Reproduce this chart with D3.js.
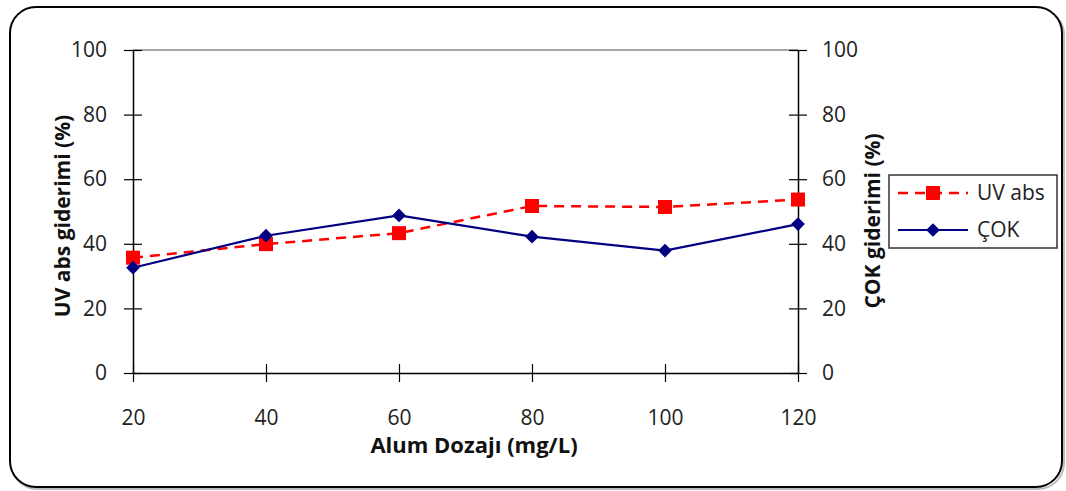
<!DOCTYPE html>
<html>
<head>
<meta charset="utf-8">
<script src="https://cdn.jsdelivr.net/npm/d3@7"></script>
<style>
  body { margin: 0; background: #fff; }
  text { font-family: "Open Sans", sans-serif; }
</style>
</head>
<body>
<div id="chart"></div>
<script>
var w = 1066;
var h = 491;

// data
var doses = [20, 40, 60, 80, 100, 120];
var uvAbs = [35.7, 39.9, 43.3, 51.7, 51.4, 53.7];
var cok = [32.6, 42.5, 48.8, 42.2, 37.9, 46.1];
var yTicks = [0, 20, 40, 60, 80, 100];
var seriesNames = ["UV abs", "ÇOK"];

var plotLeft = 133, plotRight = 798, plotTop = 50, plotBottom = 373;

var svg = d3.select("#chart")
    .append("svg")
    .attr("width", w)
    .attr("height", h);

// outer frame
svg.append("rect")
    .attr("x", 11).attr("y", 9)
    .attr("width", 1053).attr("height", 480)
    .attr("rx", 26).attr("ry", 26)
    .style("fill", "none")
    .style("stroke", "#bbb")
    .style("stroke-width", 2);
svg.append("rect")
    .attr("x", 10).attr("y", 7)
    .attr("width", 1052).attr("height", 480)
    .attr("rx", 26).attr("ry", 26)
    .style("fill", "#fff")
    .style("stroke", "#000")
    .style("stroke-width", 2);

var xScale = d3.scaleLinear()
    .domain([20, 120])
    .range([plotLeft, plotRight]);

var yScale = d3.scaleLinear()
    .domain([0, 100])
    .range([plotBottom, plotTop]);

// top border of plot area
svg.append("line")
    .attr("x1", plotLeft).attr("x2", plotRight)
    .attr("y1", plotTop).attr("y2", plotTop)
    .style("stroke", "#888")
    .style("stroke-width", 1.5);

var styleAxis = function(g) {
    g.select(".domain").style("stroke", "#000").style("stroke-width", 1.5);
    g.selectAll(".tick line").style("stroke", "#000").style("stroke-width", 1.2);
    g.selectAll(".tick text")
        .style("font-size", "21px")
        .style("font-family", "'Open Sans', sans-serif")
        .style("fill", "#222");
};

var xAxis = svg.append("g")
    .attr("transform", "translate(0," + plotBottom + ")")
    .call(d3.axisBottom(xScale).tickValues(doses).tickSize(9).tickSizeOuter(0).tickPadding(28));
styleAxis(xAxis);
xAxis.selectAll(".tick line").attr("y1", -9);

var yAxisL = svg.append("g")
    .attr("transform", "translate(" + plotLeft + ",0)")
    .call(d3.axisLeft(yScale).tickValues(yTicks).tickSize(9).tickSizeOuter(0).tickPadding(17));
styleAxis(yAxisL);
yAxisL.selectAll(".tick line").attr("x1", 9);

var yAxisR = svg.append("g")
    .attr("transform", "translate(" + plotRight + ",0)")
    .call(d3.axisRight(yScale).tickValues(yTicks).tickSize(9).tickSizeOuter(0).tickPadding(15));
styleAxis(yAxisR);
yAxisR.selectAll(".tick line").attr("x1", -9);

// axis titles
svg.append("text")
    .attr("x", 474)
    .attr("y", 453)
    .attr("text-anchor", "middle")
    .style("font-size", "22px")
    .style("font-weight", "bold")
    .style("fill", "#111")
    .text("Alum Dozajı (mg/L)");

svg.append("text")
    .attr("transform", "translate(70,216) rotate(-90)")
    .attr("text-anchor", "middle")
    .style("font-size", "21px")
    .style("font-weight", "bold")
    .style("fill", "#111")
    .text("UV abs giderimi (%)");

svg.append("text")
    .attr("transform", "translate(880,221) rotate(-90)")
    .attr("text-anchor", "middle")
    .style("font-size", "21px")
    .style("font-weight", "bold")
    .style("fill", "#111")
    .text("ÇOK giderimi (%)");

var line = d3.line()
    .x(function(d, i) { return xScale(doses[i]); })
    .y(function(d) { return yScale(d); });

// UV abs series
svg.append("path")
    .datum(uvAbs)
    .attr("d", line)
    .style("fill", "none")
    .style("stroke", "#ff0000")
    .style("stroke-width", 2.5)
    .style("stroke-dasharray", "10,7");

svg.selectAll(".uv")
    .data(uvAbs)
    .enter().append("rect")
    .attr("class", "uv")
    .attr("x", function(d, i) { return xScale(doses[i]) - 7; })
    .attr("y", function(d) { return yScale(d) - 7; })
    .attr("width", 14).attr("height", 14)
    .style("fill", "#ff0000");

// ÇOK series
svg.append("path")
    .datum(cok)
    .attr("d", line)
    .style("fill", "none")
    .style("stroke", "#000080")
    .style("stroke-width", 2.2);

var diamond = d3.symbol().type(d3.symbolDiamond2).size(120);

svg.selectAll(".cok")
    .data(cok)
    .enter().append("path")
    .attr("class", "cok")
    .attr("d", diamond)
    .attr("transform", function(d, i) { return "translate(" + xScale(doses[i]) + "," + yScale(d) + ")"; })
    .style("fill", "#000080");

// legend
var legend = svg.append("g");
legend.append("rect")
    .attr("x", 889).attr("y", 175)
    .attr("width", 168).attr("height", 73)
    .style("fill", "#fff")
    .style("stroke", "#333")
    .style("stroke-width", 1.5);

var legY = [193, 230];
legend.append("line")
    .attr("x1", 898).attr("x2", 968)
    .attr("y1", legY[0]).attr("y2", legY[0])
    .style("stroke", "#ff0000")
    .style("stroke-width", 2.5)
    .style("stroke-dasharray", "10,7");
legend.append("rect")
    .attr("x", 926).attr("y", legY[0] - 7)
    .attr("width", 14).attr("height", 14)
    .style("fill", "#ff0000");
legend.append("line")
    .attr("x1", 898).attr("x2", 968)
    .attr("y1", legY[1]).attr("y2", legY[1])
    .style("stroke", "#000080")
    .style("stroke-width", 2.2);
legend.append("path")
    .attr("d", diamond)
    .attr("transform", "translate(933," + legY[1] + ")")
    .style("fill", "#000080");

legend.selectAll(".legtext")
    .data(seriesNames)
    .enter().append("text")
    .attr("x", 977)
    .attr("y", function(d, i) { return legY[i] + 7; })
    .style("font-size", "21px")
    .style("fill", "#222")
    .text(function(d) { return d; });
</script>
</body>
</html>
